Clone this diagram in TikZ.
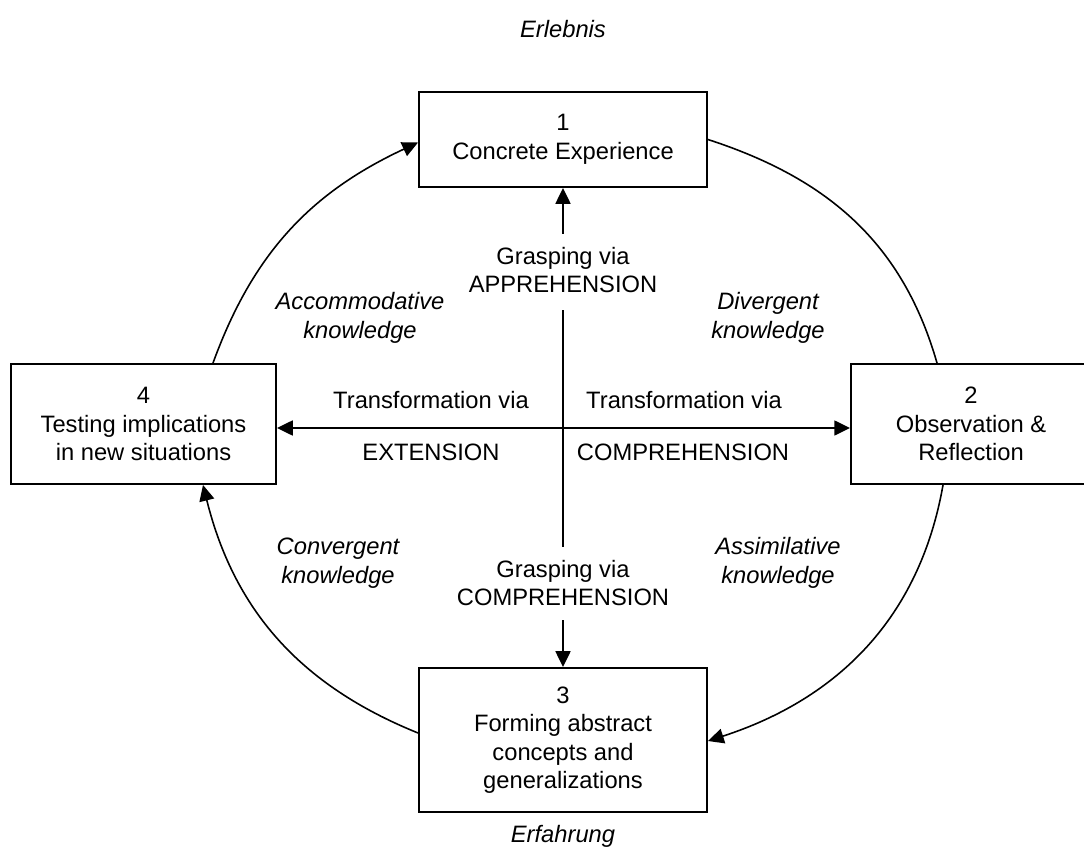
\documentclass[tikz,border=0pt]{standalone}
\usepackage{fontspec}
\setmainfont{Liberation Sans}
\usetikzlibrary{arrows.meta,calc}

\begin{document}
\begin{tikzpicture}[x=0.02cm,y=-0.02cm,
  every node/.style={font=\fontsize{13.5}{16.2}\selectfont, align=center},
  box/.style={draw, line width=1.1pt, inner sep=0pt},
  lbl/.style={font=\fontsize{13.5}{16.2}\selectfont\itshape, align=center},
  conn/.style={line width=1.1pt, -{Triangle[length=9pt,width=8.5pt]}},
  cyc/.style={line width=0.9pt}]
\useasboundingbox (0,0) rectangle (1084,861);

% the four stages of the cycle
\node[box, minimum width=5.76cm, minimum height=1.9cm]  (b1) at (563,139.5) {1\\Concrete Experience};
\node[box, minimum width=4.8cm,  minimum height=2.4cm]  (b2) at (971,424)   {2\\Observation \&\\Reflection};
\node[box, minimum width=5.76cm, minimum height=2.88cm] (b3) at (563,740)   {3\\Forming abstract\\concepts and\\generalizations};
\node[box, minimum width=5.3cm,  minimum height=2.4cm]  (b4) at (143.5,424) {4\\Testing implications\\in new situations};

% headings
\node[lbl] (erl) at (563,29)  {Erlebnis};
\node[lbl] (erf) at (563,836) {Erfahrung};

% the two axes and their labels
\node (gap) at (563,270) {Grasping via\\APPREHENSION};
\node (gcp) at (563,583) {Grasping via\\COMPREHENSION};
\node (trl) at (431,400) {Transformation via};
\node (trr) at (684,400) {Transformation via};
\node (ext) at (431,452) {EXTENSION};
\node (cmp) at (683,452) {COMPREHENSION};

% knowledge forms in the quadrants
\node[lbl] (acc) at (360,318) {Accommodative\\knowledge};
\node[lbl] (div) at (768,318) {Divergent\\knowledge};
\node[lbl] (con) at (338,563) {Convergent\\knowledge};
\node[lbl] (ass) at (778,563) {Assimilative\\knowledge};

\coordinate (up0) at (563,234);
\coordinate (m1)  at (563,310);
\coordinate (m2)  at (563,547);
\coordinate (dn0) at (563,620);

\draw[conn] (up0) -- (b1.south);
\draw[line width=1.1pt] (m1) -- (m2);
\draw[conn] (dn0) -- (b3.north);
\draw[line width=1.1pt, {Triangle[length=9pt,width=8.5pt]}-{Triangle[length=9pt,width=8.5pt]}]
  ([yshift=-0.08cm]b4.east) -- ([yshift=-0.08cm]b2.west);

% the learning cycle
\draw[cyc] (b1.east) to[out=-18,in=106] ([xshift=-0.68cm]b2.north);
\draw[cyc, -{Triangle[length=9pt,width=8.5pt]}] ([xshift=-0.56cm]b2.south) to[out=-100,in=18] ([yshift=-0.02cm]b3.east);
\draw[cyc, -{Triangle[length=9pt,width=8.5pt]}] ([yshift=0.14cm]b3.west) to[out=158,in=-76] ([xshift=1.19cm]b4.south);
\draw[cyc, -{Triangle[length=9pt,width=8.5pt]}] ([xshift=1.39cm]b4.north) to[out=70,in=205] ([yshift=-0.06cm]b1.west);
\end{tikzpicture}
\end{document}
